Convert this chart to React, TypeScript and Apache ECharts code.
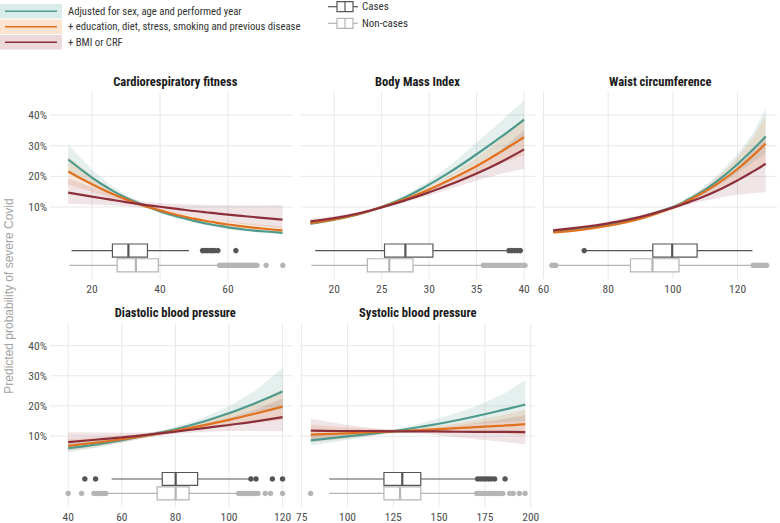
import React, { useEffect, useRef } from "react";
import * as echarts from "echarts";

const FONT = "'Roboto Condensed', 'Liberation Sans Narrow', 'DejaVu Sans Condensed', Roboto, sans-serif";
const FONT_REG = "'Liberation Sans', Arial, 'DejaVu Sans', sans-serif";

// ---------- legend / series meta ----------
const modelNames = [
  "Adjusted for sex, age and performed year",
  "+ education, diet, stress, smoking and previous disease",
  "+ BMI or CRF",
];
const groupNames = ["Cases", "Non-cases"];
const yTicks = [10, 20, 30, 40];
const yTitle = "Predicted probability of severe Covid";

// ---------- Cardiorespiratory fitness ----------
const crfTitle = "Cardiorespiratory fitness";
const crfTicks = [20, 40, 60];
const crfX = [13, 20, 25, 30, 35, 40, 45, 50, 55, 60, 65, 70, 76];
const crfAdj = [25.5, 19.6, 16.0, 13.0, 10.7, 8.6, 6.9, 5.5, 4.3, 3.4, 2.6, 2.1, 1.6];
const crfEdu = [21.6, 17.4, 14.8, 12.5, 10.5, 8.9, 7.4, 6.2, 5.2, 4.3, 3.6, 3.0, 2.4];
const crfBmi = [14.7, 13.4, 12.5, 11.6, 10.8, 10.1, 9.4, 8.7, 8.1, 7.5, 7.0, 6.5, 5.9];
const crfAdjLo = [21.5, 17.3, 14.6, 12.2, 10.2, 8.1, 6.3, 4.9, 3.7, 2.8, 2.1, 1.6, 1.1];
const crfAdjHi = [30.3, 22.2, 17.5, 13.9, 11.2, 9.2, 7.5, 6.2, 4.9, 4.0, 3.2, 2.7, 2.2];
const crfEduLo = [17.3, 15.0, 13.3, 11.6, 10.0, 8.3, 6.7, 5.4, 4.3, 3.4, 2.7, 2.1, 1.6];
const crfEduHi = [26.5, 20.0, 16.4, 13.4, 11.0, 9.5, 8.2, 7.1, 6.2, 5.4, 4.7, 4.2, 3.6];
const crfBmiLo = [11.1, 10.8, 10.6, 10.3, 9.8, 9.0, 8.0, 7.0, 6.1, 5.2, 4.4, 3.7, 3.1];
const crfBmiHi = [19.5, 16.5, 14.7, 13.0, 11.8, 11.2, 11.0, 10.8, 10.7, 10.6, 10.6, 10.6, 10.7];
const crfCasesBox = [14.0, 26.0, 30.7, 36.3, 48.5];
const crfNonBox = [13.3, 27.4, 32.9, 39.5, 57.0];
const crfCasesOut = [52.5, 53.2, 53.9, 54.6, 55.3, 56.0, 57.0, 62.3];
const crfNonOut = [57.5, 58.0, 58.5, 59.0, 59.5, 60.0, 60.5, 61.0, 61.5, 62.0, 62.5, 63.0, 63.5, 64.0, 64.5, 65.0, 65.5, 66.0, 66.5, 67.0, 67.5, 68.0, 68.5, 71.2, 76.1];

// ---------- Body Mass Index ----------
const bmiTitle = "Body Mass Index";
const bmiTicks = [20, 25, 30, 35, 40];
const bmiX = [17.5, 20, 22.5, 25, 27.5, 30, 32.5, 35, 37.5, 40];
const bmiAdj = [4.6, 5.9, 7.6, 10.0, 13.2, 17.3, 22.0, 27.2, 32.7, 38.5];
const bmiEdu = [4.8, 6.0, 7.7, 10.0, 12.6, 15.7, 19.4, 23.4, 27.9, 32.8];
const bmiBmi = [5.3, 6.4, 7.9, 9.9, 12.2, 14.8, 17.7, 20.9, 24.6, 28.8];
const bmiAdjLo = [4.0, 5.4, 7.2, 9.6, 12.6, 16.4, 20.2, 24.0, 28.0, 32.0];
const bmiAdjHi = [5.3, 6.4, 8.0, 10.4, 13.9, 18.6, 24.3, 31.0, 37.8, 44.8];
const bmiEduLo = [4.2, 5.5, 7.3, 9.6, 12.0, 14.8, 17.8, 21.0, 24.0, 27.0];
const bmiEduHi = [5.6, 6.6, 8.1, 10.4, 13.2, 16.6, 21.0, 26.0, 32.0, 39.0];
const bmiBmiLo = [4.6, 5.8, 7.5, 9.5, 11.6, 13.8, 16.2, 18.6, 20.8, 22.5];
const bmiBmiHi = [6.1, 7.0, 8.3, 10.3, 12.8, 15.8, 19.3, 23.5, 28.5, 35.0];
const bmiCasesBox = [18.0, 25.3, 27.5, 30.4, 38.1];
const bmiNonBox = [17.6, 23.5, 25.8, 28.3, 35.5];
const bmiCasesOut = [38.4, 38.7, 39.0, 39.3, 39.6];
const bmiNonOut = [35.7, 36.0, 36.3, 36.6, 36.9, 37.2, 37.5, 37.8, 38.1, 38.4, 38.7, 39.0, 39.3, 39.6, 39.9, 40.1];

// ---------- Waist circumference ----------
const waistTitle = "Waist circumference";
const waistTicks = [60, 80, 100, 120];
const waistX = [63, 70, 80, 90, 100, 105, 110, 115, 120, 125, 128.7];
const waistAdj = [2.0, 2.7, 4.3, 6.6, 10.0, 12.6, 15.7, 19.5, 24.0, 29.0, 33.0];
const waistEdu = [1.7, 2.4, 3.9, 6.2, 9.8, 12.2, 15.1, 18.5, 22.4, 27.0, 30.7];
const waistBmi = [2.4, 3.2, 4.7, 6.8, 9.8, 11.6, 13.6, 16.0, 18.7, 21.7, 24.1];
const waistAdjLo = [1.6, 2.3, 3.8, 6.1, 9.6, 11.9, 14.5, 17.6, 21.2, 24.8, 27.5];
const waistAdjHi = [2.5, 3.2, 4.8, 7.1, 10.5, 13.3, 17.0, 21.6, 27.3, 34.5, 42.0];
const waistEduLo = [1.3, 1.9, 3.4, 5.7, 9.3, 11.4, 13.8, 16.5, 19.3, 22.3, 24.5];
const waistEduHi = [2.2, 2.9, 4.4, 6.7, 10.3, 13.0, 16.4, 20.8, 26.2, 33.0, 40.0];
const waistBmiLo = [1.9, 2.7, 4.2, 6.3, 9.3, 10.8, 12.1, 13.2, 14.0, 14.5, 14.9];
const waistBmiHi = [3.0, 3.7, 5.2, 7.3, 10.3, 12.4, 15.2, 18.6, 23.0, 28.5, 33.0];
const waistCasesBox = [73.0, 93.8, 99.8, 107.5, 124.6];
const waistNonBox = [64.1, 86.9, 93.7, 101.9, 124.1];
const waistCasesOut = [72.6];
const waistNonOut = [62.6, 63.2, 63.8, 124.8, 125.5, 126.2, 126.9, 127.6, 128.3, 129.0];

// ---------- Diastolic blood pressure ----------
const dbpTitle = "Diastolic blood pressure";
const dbpTicks = [40, 60, 80, 100, 120];
const dbpX = [40, 50, 60, 70, 80, 90, 100, 110, 120];
const dbpAdj = [6.0, 7.2, 8.7, 10.4, 12.3, 14.7, 17.6, 21.0, 24.8];
const dbpEdu = [6.8, 7.8, 9.0, 10.3, 11.8, 13.5, 15.4, 17.5, 19.8];
const dbpBmi = [8.0, 8.8, 9.6, 10.5, 11.5, 12.6, 13.7, 14.9, 16.3];
const dbpAdjLo = [4.7, 6.1, 7.8, 9.7, 11.6, 13.5, 15.6, 17.5, 19.2];
const dbpAdjHi = [7.6, 8.5, 9.6, 10.9, 13.0, 16.0, 19.8, 25.2, 32.5];
const dbpEduLo = [5.0, 6.3, 7.9, 9.6, 11.1, 12.5, 13.7, 14.6, 15.3];
const dbpEduHi = [9.1, 9.6, 10.2, 11.0, 12.5, 14.6, 17.3, 21.0, 25.5];
const dbpBmiLo = [5.6, 6.9, 8.3, 9.7, 10.8, 11.4, 11.7, 11.7, 11.6];
const dbpBmiHi = [11.3, 11.2, 11.1, 11.3, 12.2, 13.9, 16.0, 18.8, 22.5];
const dbpCasesBox = [56.2, 75.1, 80.1, 88.3, 107.8];
const dbpNonBox = [54.9, 73.2, 80.1, 85.1, 103.0];
const dbpCasesOut = [46.2, 50.2, 108.2, 110.1, 116.2, 120.0];
const dbpNonOut = [40, 45, 49.6, 50.5, 51.4, 52.3, 53.2, 54.0, 103.6, 104.5, 105.4, 106.3, 107.2, 108.1, 109.0, 109.9, 110.8, 113.5, 115.5, 120];

// ---------- Systolic blood pressure ----------
const sbpTitle = "Systolic blood pressure";
const sbpTicks = [75, 100, 125, 150, 175, 200];
const sbpX = [80, 95, 110, 125, 140, 155, 170, 185, 197];
const sbpAdj = [8.6, 9.6, 10.6, 11.7, 13.1, 14.7, 16.6, 18.7, 20.5];
const sbpEdu = [10.5, 10.8, 11.2, 11.6, 12.0, 12.5, 13.0, 13.5, 14.0];
const sbpBmi = [11.8, 11.7, 11.7, 11.6, 11.6, 11.5, 11.4, 11.4, 11.3];
const sbpAdjLo = [6.9, 8.3, 9.7, 11.2, 12.3, 13.2, 14.0, 14.6, 15.0];
const sbpAdjHi = [10.6, 11.0, 11.5, 12.2, 14.2, 16.8, 19.8, 24.0, 28.6];
const sbpEduLo = [7.9, 8.9, 10.0, 11.0, 11.3, 11.3, 11.1, 10.8, 10.4];
const sbpEduHi = [13.8, 13.0, 12.5, 12.2, 12.7, 13.8, 15.3, 17.0, 18.8];
const sbpBmiLo = [8.7, 9.6, 10.6, 11.1, 10.9, 10.0, 9.0, 8.1, 7.3];
const sbpBmiHi = [15.8, 14.2, 12.9, 12.1, 12.3, 13.2, 14.3, 15.6, 17.0];
const sbpCasesBox = [90.1, 119.9, 129.9, 140.0, 169.6];
const sbpNonBox = [90.1, 119.9, 128.7, 140.0, 169.6];
const sbpCasesOut = [171, 172.5, 174, 175.5, 177, 178.5, 180.3, 186];
const sbpNonOut = [79.9, 170.5, 171.8, 173.1, 174.4, 175.7, 177, 178.3, 179.6, 180.9, 182.2, 183.5, 184.8, 188.5, 190.4, 193.8, 196.9];

// ---------- styles & layout ----------
const lineColors = ["#4f9a8d", "#e0711e", "#8c2f3b"];
const bandColors = ["rgba(79,154,141,0.15)", "rgba(224,113,30,0.15)", "rgba(140,47,59,0.13)"];
const keyBg = ["#d9ecea", "#fce3d1", "#ecd8d9"];
const boxColors = ["#555555", "#b5b5b5"];
const GRID_COLOR = "#e8e8e8";
const Y_MIN = -11.5;
const Y_MAX = 47.5;
const ROW_Y = [-4.2, -9.0];
const BOX_HALF = 2.15;

const layout = [
  { left: 57.5, top: 92, width: 235.5, min: 9.85, max: 79.1, yLabels: true, split: 5 },
  { left: 300, top: 92, width: 235, min: 16.4, max: 41.15, yLabels: false, split: 5 },
  { left: 542.5, top: 92, width: 235.5, min: 59.7, max: 132.2, yLabels: false, split: 5 },
  { left: 57.5, top: 323, width: 235.5, min: 36, max: 123.9, yLabels: true, split: 5 },
  { left: 300, top: 323, width: 235.5, min: 74.1, max: 202.6, yLabels: false, split: 25 },
];
const GRID_H = 181;

const panels = [
  { title: crfTitle, ticks: crfTicks, x: crfX, lines: [crfAdj, crfEdu, crfBmi], lo: [crfAdjLo, crfEduLo, crfBmiLo], hi: [crfAdjHi, crfEduHi, crfBmiHi], boxes: [crfCasesBox, crfNonBox], outs: [crfCasesOut, crfNonOut] },
  { title: bmiTitle, ticks: bmiTicks, x: bmiX, lines: [bmiAdj, bmiEdu, bmiBmi], lo: [bmiAdjLo, bmiEduLo, bmiBmiLo], hi: [bmiAdjHi, bmiEduHi, bmiBmiHi], boxes: [bmiCasesBox, bmiNonBox], outs: [bmiCasesOut, bmiNonOut] },
  { title: waistTitle, ticks: waistTicks, x: waistX, lines: [waistAdj, waistEdu, waistBmi], lo: [waistAdjLo, waistEduLo, waistBmiLo], hi: [waistAdjHi, waistEduHi, waistBmiHi], boxes: [waistCasesBox, waistNonBox], outs: [waistCasesOut, waistNonOut] },
  { title: dbpTitle, ticks: dbpTicks, x: dbpX, lines: [dbpAdj, dbpEdu, dbpBmi], lo: [dbpAdjLo, dbpEduLo, dbpBmiLo], hi: [dbpAdjHi, dbpEduHi, dbpBmiHi], boxes: [dbpCasesBox, dbpNonBox], outs: [dbpCasesOut, dbpNonOut] },
  { title: sbpTitle, ticks: sbpTicks, x: sbpX, lines: [sbpAdj, sbpEdu, sbpBmi], lo: [sbpAdjLo, sbpEduLo, sbpBmiLo], hi: [sbpAdjHi, sbpEduHi, sbpBmiHi], boxes: [sbpCasesBox, sbpNonBox], outs: [sbpCasesOut, sbpNonOut] },
];

const inList = (list: number[], v: number) => list.some((t) => Math.abs(t - v) < 1e-6);

function buildOption() {
  const grid: any[] = [];
  const xAxis: any[] = [];
  const yAxis: any[] = [];
  const series: any[] = [];
  const graphic: any[] = [];

  panels.forEach((p, i) => {
    const L = layout[i];
    grid.push({ left: L.left, top: L.top, width: L.width, height: GRID_H });
    xAxis.push({
      type: "value", gridIndex: i, min: L.min, max: L.max, splitNumber: L.split,
      axisLine: { show: false }, axisTick: { show: false }, splitLine: { show: false },
      axisLabel: {
        margin: 10, color: "#4d4d4d", fontSize: 11.5, fontFamily: FONT,
        formatter: (v: number) => (inList(p.ticks, v) ? String(Math.round(v)) : ""),
      },
    });
    yAxis.push({
      type: "value", gridIndex: i, min: Y_MIN, max: Y_MAX,
      axisLine: { show: false }, axisTick: { show: false }, splitLine: { show: false },
      axisLabel: {
        show: L.yLabels, margin: 10.5, color: "#4d4d4d", fontSize: 11.5, fontFamily: FONT,
        formatter: (v: number) => (inList(yTicks, v) ? Math.round(v) + "%" : ""),
      },
    });

    const tickLen = L.yLabels ? 7.5 : 0;
    // vertical gridlines
    series.push({
      type: "custom", xAxisIndex: i, yAxisIndex: i, z: 0, silent: true,
      data: p.ticks.map((t) => [t, 0]),
      renderItem: (params: any, api: any) => {
        const cs = params.coordSys;
        const x = api.coord([api.value(0), 0])[0];
        return { type: "line", shape: { x1: x, y1: cs.y, x2: x, y2: cs.y + cs.height + 6 }, style: { stroke: GRID_COLOR, lineWidth: 1 } };
      },
    });
    // horizontal gridlines
    series.push({
      type: "custom", xAxisIndex: i, yAxisIndex: i, z: 0, silent: true,
      data: yTicks.map((t) => [L.min, t]),
      renderItem: (params: any, api: any) => {
        const cs = params.coordSys;
        const y = api.coord([api.value(0), api.value(1)])[1];
        return { type: "line", shape: { x1: cs.x - tickLen, y1: y, x2: cs.x + cs.width, y2: y }, style: { stroke: GRID_COLOR, lineWidth: 1 } };
      },
    });
    // confidence bands
    [0, 1, 2].forEach((k) => {
      const xs = p.x, lo = p.lo[k], hi = p.hi[k];
      series.push({
        type: "custom", xAxisIndex: i, yAxisIndex: i, z: 1, silent: true,
        data: [[xs[0], lo[0]]],
        renderItem: (params: any, api: any) => {
          const pts: number[][] = [];
          xs.forEach((x, j) => pts.push(api.coord([x, hi[j]])));
          for (let j = xs.length - 1; j >= 0; j--) pts.push(api.coord([xs[j], lo[j]]));
          return { type: "polygon", shape: { points: pts }, style: { fill: bandColors[k] } };
        },
      });
    });
    // boxplots
    [0, 1].forEach((g) => {
      const color = boxColors[g];
      series.push({
        type: "custom", xAxisIndex: i, yAxisIndex: i, z: 2, silent: true,
        data: [[...p.boxes[g], ROW_Y[g]]],
        encode: { x: [0, 1, 2, 3, 4], y: 5 },
        renderItem: (params: any, api: any) => {
          const yc = api.value(5);
          const c = (v: number, y: number) => api.coord([v, y]);
          const top = c(api.value(1), yc + BOX_HALF)[1];
          const bot = c(api.value(1), yc - BOX_HALF)[1];
          const cy = c(api.value(1), yc)[1];
          const xL = c(api.value(0), yc)[0];
          const x1 = c(api.value(1), yc)[0];
          const xm = c(api.value(2), yc)[0];
          const x3 = c(api.value(3), yc)[0];
          const xH = c(api.value(4), yc)[0];
          const st = { stroke: color, lineWidth: 1.2 };
          return {
            type: "group",
            children: [
              { type: "line", shape: { x1: xL, y1: cy, x2: x1, y2: cy }, style: st },
              { type: "line", shape: { x1: x3, y1: cy, x2: xH, y2: cy }, style: st },
              { type: "rect", shape: { x: x1, y: top, width: x3 - x1, height: bot - top }, style: { fill: "#ffffff", stroke: color, lineWidth: 1.2 } },
              { type: "line", shape: { x1: xm, y1: top, x2: xm, y2: bot }, style: { stroke: color, lineWidth: 2.2 } },
            ],
          };
        },
      });
      series.push({
        type: "scatter", xAxisIndex: i, yAxisIndex: i, z: 2, silent: true,
        symbolSize: 5.5, itemStyle: { color, opacity: 1 },
        data: p.outs[g].map((v) => [v, ROW_Y[g]]),
      });
    });
    // fitted lines
    [0, 1, 2].forEach((k) => {
      series.push({
        type: "line", name: modelNames[k], xAxisIndex: i, yAxisIndex: i, z: 3, silent: true,
        smooth: 0.5, showSymbol: false, symbol: "none",
        lineStyle: { color: lineColors[k], width: 2.2 },
        data: p.x.map((x, j) => [x, p.lines[k][j]]),
      });
    });

    graphic.push({
      type: "text", x: L.left + L.width / 2, y: L.top - 10.5,
      style: { text: p.title, fill: "#1a1a1a", fontSize: 12.5, fontWeight: "bold", fontFamily: FONT, textAlign: "center", textVerticalAlign: "middle", align: "center", verticalAlign: "middle" },
    });
  });

  // y axis title
  graphic.push({
    type: "text", x: 8.5, y: 296, rotation: Math.PI / 2,
    style: { text: yTitle, fill: "#a3a3a3", fontSize: 12, fontFamily: FONT_REG, textAlign: "center", textVerticalAlign: "middle", align: "center", verticalAlign: "middle" },
  });

  // model legend
  const keyRows = [11.25, 26.75, 42.25];
  modelNames.forEach((name, k) => {
    const cy = keyRows[k];
    graphic.push({ type: "rect", shape: { x: 0, y: cy - 7.25, width: 62, height: 14.5 }, style: { fill: keyBg[k] } });
    graphic.push({ type: "line", shape: { x1: 5, y1: cy, x2: 57, y2: cy }, style: { stroke: lineColors[k], lineWidth: 1.5 } });
    graphic.push({
      type: "text", x: 68, y: cy,
      style: { text: name, fill: "#333333", fontSize: 10.7, fontFamily: FONT, textAlign: "left", textVerticalAlign: "middle", align: "left", verticalAlign: "middle" },
    });
  });

  // box legend
  const boxRows = [6.7, 23.3];
  groupNames.forEach((name, g) => {
    const cy = boxRows[g];
    const col = boxColors[g];
    graphic.push({ type: "line", shape: { x1: 328, y1: cy, x2: 337, y2: cy }, style: { stroke: col, lineWidth: 1.2 } });
    graphic.push({ type: "line", shape: { x1: 353, y1: cy, x2: 358, y2: cy }, style: { stroke: col, lineWidth: 1.2 } });
    graphic.push({ type: "rect", shape: { x: 337, y: cy - 5, width: 16, height: 10 }, style: { fill: "#fff", stroke: col, lineWidth: 1.2 } });
    graphic.push({ type: "line", shape: { x1: 345, y1: cy - 5, x2: 345, y2: cy + 5 }, style: { stroke: col, lineWidth: 1.2 } });
    graphic.push({
      type: "text", x: 362, y: cy,
      style: { text: name, fill: "#333333", fontSize: 11, fontFamily: FONT, textAlign: "left", textVerticalAlign: "middle", align: "left", verticalAlign: "middle" },
    });
  });

  return {
    animation: false,
    backgroundColor: "#ffffff",
    textStyle: { fontFamily: FONT },
    grid, xAxis, yAxis, series, graphic,
  };
}

export default function App() {
  const ref = useRef<HTMLDivElement>(null);
  useEffect(() => {
    if (!ref.current) return;
    const chart = echarts.init(ref.current, null, { renderer: "svg" });
    chart.setOption(buildOption() as any);
    return () => chart.dispose();
  }, []);
  return <div ref={ref} style={{ position: "fixed", left: 0, top: 0, width: 780, height: 523, background: "#fff" }} />;
}
